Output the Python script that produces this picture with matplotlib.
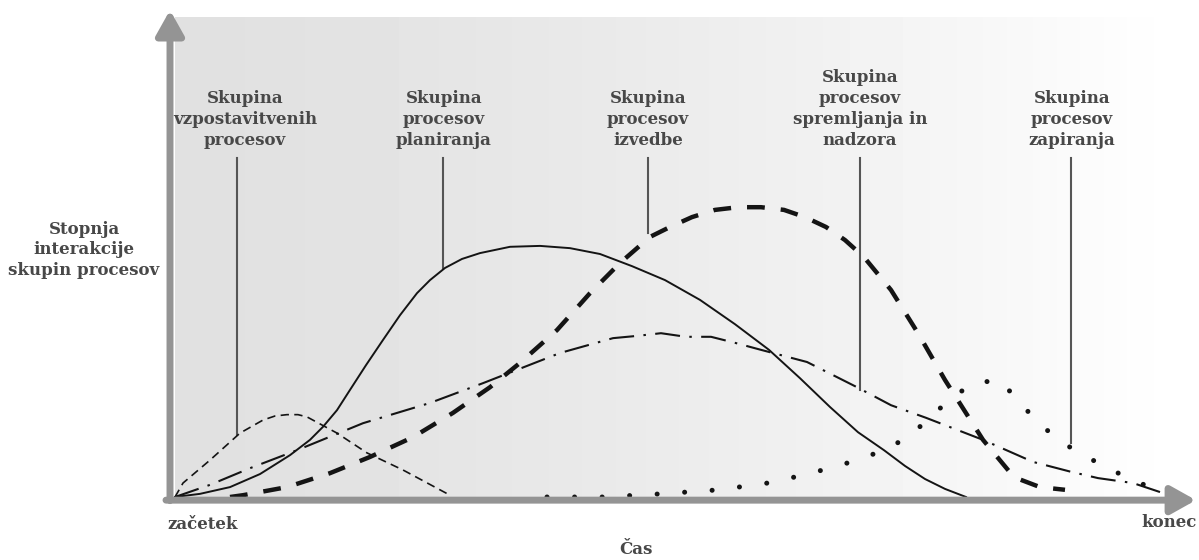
import numpy as np
import matplotlib.pyplot as plt

# time (0 = začetek, 100 = konec) / interaction level
init_t = [0.3, 1.1, 3.8, 6.8, 9.1, 10.3, 11.5, 12.6, 13.5, 16.5, 19.5, 23.1, 27.8]
init_v = [0, 3.1, 8.2, 14.2, 17.1, 18.0, 18.3, 18.3, 17.8, 14.2, 9.8, 6.0, 0.4]

plan_t = [0.3, 2.8, 5.8, 8.8, 11.8, 13.8, 15.1, 16.5, 17.8, 19.4, 21.1, 22.8,
          24.5, 25.8, 27.3, 29.0, 30.8, 33.8, 36.8, 39.8, 42.8, 46.0, 49.3,
          52.8, 56.3, 59.7, 62.8, 65.8, 68.6, 71.2, 73.3, 75.3, 77.3, 79.4]
plan_v = [0, 0.7, 2.2, 5.1, 9.3, 12.7, 15.6, 19.3, 23.8, 29.3, 34.9, 40.4,
          45.3, 48.2, 50.9, 52.9, 54.2, 55.6, 55.8, 55.3, 54.0, 51.3, 48.2,
          43.8, 38.4, 32.7, 26.4, 20.0, 14.4, 10.4, 6.9, 4.0, 1.8, 0]

exec_t = [5.8, 7.1, 11.5, 15.8, 19.8, 24.1, 28.1, 31.8, 34.8, 38.5, 41.8, 44.8,
          47.8, 49.8, 52.0, 54.3, 56.6, 58.9, 61.2, 63.3, 65.4, 67.3, 69.2,
          71.9, 74.6, 77.3, 81.1, 84.2, 86.8, 89.3]
exec_v = [0, 0.4, 2.2, 5.3, 8.9, 13.3, 18.7, 24.4, 29.8, 37.1, 45.3, 52.0,
          57.8, 60.0, 62.2, 63.8, 64.4, 64.4, 63.8, 62.2, 60.0, 57.1, 53.3,
          46.0, 36.4, 26.0, 12.7, 4.4, 2.2, 1.6]

mon_t = [0.3, 3.8, 7.8, 12.5, 19.1, 25.8, 31.1, 38.8, 44.1, 46.5, 48.9, 51.4,
         53.9, 56.4, 58.9, 63.5, 68.5, 71.9, 75.4, 81.1, 86.1, 89.9, 92.6, 96.1, 98.8]
mon_v = [0, 2.7, 6.4, 10.4, 16.4, 20.9, 25.3, 32.0, 35.3, 35.8, 36.4, 35.6,
         35.6, 34.2, 32.7, 30.0, 24.4, 20.4, 17.6, 12.7, 7.8, 5.6, 4.2, 3.1, 1.1]

close_t = [37.5, 43.2, 48.9, 54.7, 60.2, 65.8, 68.5, 71.2, 73.6, 75.8, 77.9,
           80.2, 82.8, 84.8, 86.7, 88.8, 91.3, 93.8, 96.2, 98.9]
close_v = [0, 0, 0.7, 1.6, 3.3, 6.4, 8.2, 10.4, 13.3, 17.6, 22.0,
           25.3, 26.0, 20.9, 16.4, 12.4, 9.1, 6.2, 3.6, 1.3]

labels = ['Skupina\nvzpostavitvenih\nprocesov',
          'Skupina\nprocesov\nplaniranja',
          'Skupina\nprocesov\nizvedbe',
          'Skupina\nprocesov\nspremljanja in\nnadzora',
          'Skupina\nprocesov\nzapiranja']
label_x = [7.3, 27.2, 47.6, 68.8, 90.0]
leader_x = [6.5, 27.1, 47.6, 68.8, 89.9]
leader_end = [13.8, 50.9, 58.7, 23.8, 12.0]

fig = plt.figure(figsize=(11.99, 5.6), dpi=100)
ax = fig.add_axes([172 / 1199, 63 / 560, 1000 / 1199, 450 / 560])
ax.set_xlim(0, 100)
ax.set_ylim(0, 100)
ax.axis('off')

# grey background, fading to white on the right
grad = np.linspace(0, 1, 300)
shade = 0.88 + 0.12 * grad ** 1.4
ax.imshow(shade[np.newaxis, :], cmap='gray', vmin=0, vmax=1, aspect='auto',
          extent=(0.3, 100.5, 0, 106.5), clip_on=False, zorder=0)

ink = '#141414'
ax.plot(init_t, init_v, color=ink, lw=1.2, dashes=(5, 3.2), zorder=3)
ax.plot(plan_t, plan_v, color=ink, lw=1.4, zorder=3)
ax.plot(exec_t, exec_v, color=ink, lw=3.2, dashes=(4, 3.6), zorder=3)
ax.plot(mon_t, mon_v, color=ink, lw=1.5, dashes=(12, 4.5, 1.2, 4.5), zorder=3)
ax.plot(close_t, close_v, color=ink, lw=3.6, dashes=(0.01, 5.5),
        dash_capstyle='round', zorder=3)

# leader lines and group labels
txt = dict(family='DejaVu Serif', fontsize=12, fontweight='bold',
           color='#484848', linespacing=1.3)
for lx, tx, end, lab in zip(leader_x, label_x, leader_end, labels):
    ax.plot([lx, lx], [75.3, end], color='#555555', lw=1.5, zorder=2, clip_on=False)
    ax.text(tx, 77.3, lab, ha='center', va='bottom', clip_on=False, **txt)

# axes arrows
arrow = dict(arrowstyle='-|>,head_length=0.75,head_width=0.42', lw=5,
             color='#949494', mutation_scale=20, shrinkA=0, shrinkB=0)
ax.annotate('', xy=(-0.2, 108.2), xytext=(-0.2, -0.8), arrowprops=arrow,
            annotation_clip=False, zorder=4)
ax.annotate('', xy=(102.4, -0.7), xytext=(-0.6, -0.7), arrowprops=arrow,
            annotation_clip=False, zorder=4)

ax.text(-8.8, 54.9, 'Stopnja\ninterakcije\nskupin procesov', ha='center',
        va='center', clip_on=False, **txt)
ax.text(-0.5, -6.2, 'začetek', ha='left', va='center', clip_on=False, **txt)
ax.text(102.5, -5.6, 'konec', ha='right', va='center', clip_on=False, **txt)
ax.text(46.4, -11.6, 'Čas', ha='center', va='center', clip_on=False, **txt)

fig.savefig('out.png', dpi=100)
